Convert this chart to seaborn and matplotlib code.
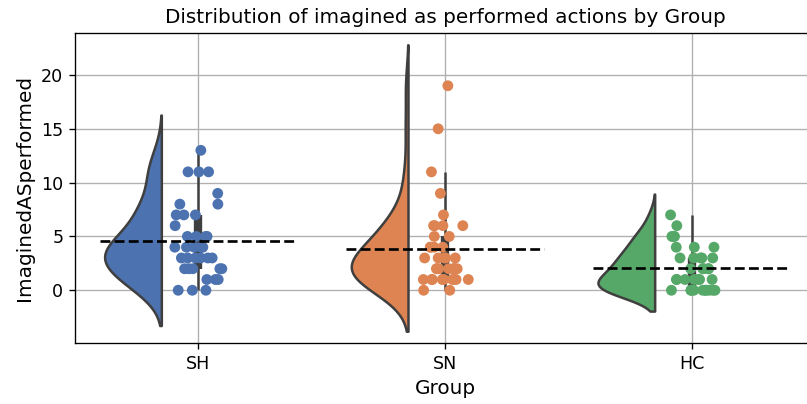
import numpy as np
import pandas as pd
import matplotlib
matplotlib.use("Agg")
import matplotlib.pyplot as plt
from matplotlib.transforms import Affine2D
import seaborn as sns

# values
groups = ["SH", "SN", "HC"]
sh_vals = [13, 11, 11, 11, 9, 8, 8, 7, 7, 7, 6, 5, 5, 5, 5, 4, 4, 4, 4, 4,
           3, 3, 3, 3, 3, 3, 2, 2, 2, 2, 2, 1, 1, 1, 0, 0, 0]
sn_vals = [19, 15, 11, 9, 7, 6, 6, 6, 6, 5, 5, 4, 4, 4, 4, 3, 3, 3, 3, 3,
           2, 2, 2, 2, 2, 2, 2, 2, 1, 1, 1, 1, 1, 1, 1, 1, 1, 0, 0]
hc_vals = [7, 6, 5, 5, 5, 4, 4, 4, 3, 3, 3, 3, 3, 2, 2, 2, 2, 2,
           1, 1, 1, 1, 1, 1, 1, 0, 0, 0, 0, 0, 0, 0, 0, 0, 0]
colors = sns.color_palette("deep", 3)

df = pd.DataFrame({
    "Group": ["SH"] * len(sh_vals) + ["SN"] * len(sn_vals) + ["HC"] * len(hc_vals),
    "ImaginedASperformed": sh_vals + sn_vals + hc_vals,
})

fig = plt.figure(figsize=(807 / 120, 404 / 120), dpi=120)
ax = fig.add_axes([75 / 807, 61 / 404, 740 / 807, 310 / 404])

# half violins, moved to the left of the category centre
for g, c in zip(groups, colors):
    n_before = len(ax.collections)
    sns.violinplot(data=df[df["Group"] == g], x="Group", y="ImaginedASperformed",
                   order=groups, color=c, split=True, inner=None,
                   density_norm="width", width=0.23, linewidth=1.5,
                   linecolor="#3f3f3f", saturation=1, ax=ax)
    for coll in ax.collections[n_before:]:
        coll.set_transform(Affine2D().translate(-0.265, 0) + ax.transData)
        coll.set_zorder(1)

# thin box (IQR line, whiskers, median dot)
for i, g in enumerate(groups):
    v = np.array(df.loc[df["Group"] == g, "ImaginedASperformed"])
    q1, med, q3 = np.percentile(v, [25, 50, 75])
    w = 1.5 * (q3 - q1)
    lo = v[v >= q1 - w].min()
    hi = v[v <= q3 + w].max()
    ax.vlines(i, lo, hi, color="#3f3f3f", lw=1.5, zorder=2)
    ax.vlines(i, q1, q3, color="#3f3f3f", lw=5, zorder=2)
    ax.scatter([i], [med], s=8, color="white", zorder=3)

n_before = len(ax.collections)
np.random.seed(3)
sns.stripplot(data=df, x="Group", y="ImaginedASperformed", hue="Group",
              order=groups, hue_order=groups, palette=colors, jitter=0.1,
              size=6.5, legend=False, ax=ax)
for coll in ax.collections[n_before:]:
    coll.set_zorder(4)

# dashed mean lines
for i, g in enumerate(groups):
    m = df.loc[df["Group"] == g, "ImaginedASperformed"].mean()
    ax.hlines(m, i - 0.4, i + 0.4, colors="black", linestyles="--", lw=1.6, zorder=5)

ax.set_xlim(-0.5, 2.5)
ax.set_ylim(-4.9, 23.9)
ax.set_yticks([0, 5, 10, 15, 20])
ax.tick_params(labelsize=10.5)
ax.grid(True, color="#b0b0b0", lw=0.8)
ax.set_axisbelow(True)
ax.set_title("Distribution of imagined as performed actions by Group", fontsize=12)
ax.set_xlabel("Group", fontsize=12)
ax.set_ylabel("ImaginedASperformed", fontsize=12)

fig.savefig("out.png", dpi=120)
